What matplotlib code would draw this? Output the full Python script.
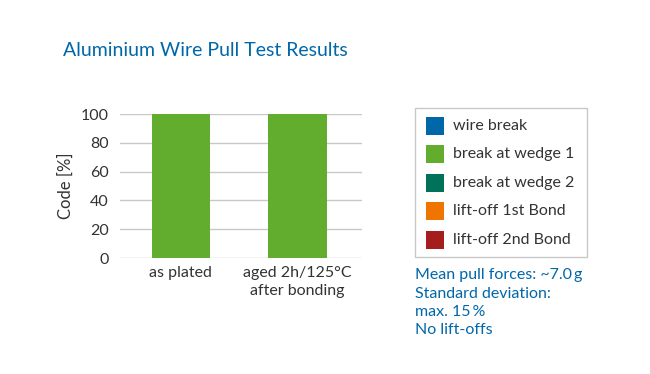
import matplotlib
matplotlib.use("Agg")
import matplotlib.pyplot as plt
from matplotlib.patches import Rectangle

plt.rcParams['font.family'] = ['Lato', 'DejaVu Sans']

categories = ["as plated", "aged 2h/125°C\nafter bonding"]
wedge1 = [100, 100]
yticks = [0, 20, 40, 60, 80, 100]
legend_labels = ["wire break", "break at wedge 1", "break at wedge 2",
                 "lift-off 1st Bond", "lift-off 2nd Bond"]
legend_colors = ["#0067a9", "#62ac2e", "#00725a", "#f07400", "#a61d1d"]
notes = ["Mean pull forces: ~7.0\u2009g", "Standard deviation:",
         "max. 15\u2009%", "No lift-offs"]

blue = "#0067a9"
text_col = "#333333"

fig = plt.figure(figsize=(6.5, 3.74), dpi=100)
W, H = 650, 374

# main axes: x 120..362, y 114..258 (pixels)
ax = fig.add_axes([120 / W, 1 - 258 / H, 242 / W, 144 / H])
x = range(len(categories))
ax.bar(x, wedge1, width=0.5, color=legend_colors[1], zorder=3)
ax.set_xlim(-0.52, 1.55)
ax.set_ylim(0, 100)
ax.set_yticks(yticks)
ax.yaxis.grid(True, color="#c8c8c8", linewidth=1)
ax.set_axisbelow(True)
for s in ax.spines.values():
    s.set_visible(False)
ax.tick_params(axis="both", length=0, labelsize=11.5, colors=text_col)
ax.tick_params(axis="y", pad=8)
ax.tick_params(axis="x", pad=6)
ax.set_xticks(list(x))
ax.set_xticklabels(categories, linespacing=1.35)
ax.set_ylabel("Code [%]", fontsize=12, color=text_col, labelpad=5)

fig.text(63 / W, 1 - 50 / H, "Aluminium Wire Pull Test Results",
         fontsize=14, color=blue, va="center", ha="left")

# legend box
fig.patches.append(Rectangle((415 / W, 1 - 257 / H), 172 / W, 149 / H,
                             transform=fig.transFigure, facecolor="white",
                             edgecolor="#c8c8c8", linewidth=1))
for i, (lab, col) in enumerate(zip(legend_labels, legend_colors)):
    yc = 126 + i * 28.4
    fig.patches.append(Rectangle((426 / W, 1 - (yc + 9) / H), 18 / W, 18 / H,
                                 transform=fig.transFigure, facecolor=col,
                                 edgecolor="none"))
    fig.text(453 / W, 1 - yc / H, lab, fontsize=11.5, color=text_col,
             va="center", ha="left")

for i, line in enumerate(notes):
    fig.text(415 / W, 1 - (275 + i * 18.5) / H, line, fontsize=11.5,
             color=blue, va="center", ha="left")

fig.savefig("out.png", dpi=100)
